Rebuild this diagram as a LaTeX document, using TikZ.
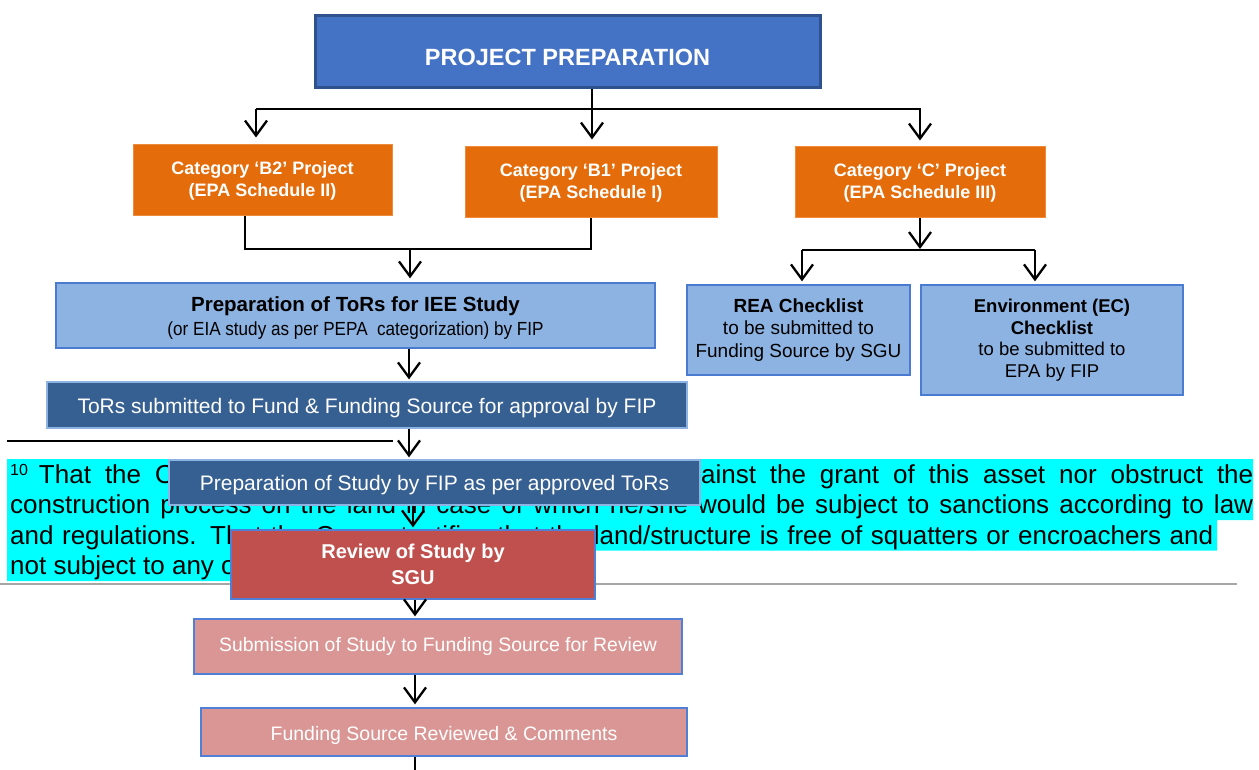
\documentclass[tikz,border=0pt]{standalone}
\usepackage{graphicx}
\usepackage{fontspec}
\setmainfont{Liberation Sans}
\usetikzlibrary{arrows.meta}

\definecolor{prepblue}{HTML}{4472C4}
\definecolor{prepedge}{HTML}{2F528F}
\definecolor{catorange}{HTML}{E46C0A}
\definecolor{catedge}{HTML}{F08A3C}
\definecolor{lightblue}{HTML}{8DB3E2}
\definecolor{lightedge}{HTML}{4A7BD0}
\definecolor{steelblue}{HTML}{376092}
\definecolor{steeledge}{HTML}{8DB3E2}
\definecolor{reviewred}{HTML}{C0504D}
\definecolor{pinkbox}{HTML}{D99694}
\definecolor{pinkedge}{HTML}{4F7FD6}
\definecolor{hilite}{HTML}{00FFFF}
\definecolor{rulegray}{HTML}{A6A6A6}

% lower a line of text inside its box without changing the box size
\newcommand{\lowerby}[2]{\raisebox{-#1}[\height][\depth]{#2}}

\tikzset{
  conn/.style={draw=black, line width=2.3pt},
  arr/.style={conn, -{Straight Barb[length=15pt,width=22pt]}, shorten >=4pt},
  box/.style={rectangle, align=center, inner sep=0pt},
  topbox/.style={box, fill=prepblue, draw=prepedge, line width=3pt, text=white},
  catbox/.style={box, fill=catorange, draw=catedge, line width=1pt, text=white,
    font=\bfseries\fontsize{18}{22}\selectfont},
  lbbox/.style={box, fill=lightblue, draw=lightedge, line width=1.3pt, text=black},
  sbbox/.style={box, fill=steelblue, draw=steeledge, line width=1.3pt, text=white},
  redbox/.style={box, fill=reviewred, draw=pinkedge, line width=1.3pt, text=white,
    font=\bfseries\fontsize{20}{26}\selectfont},
  pkbox/.style={box, fill=pinkbox, draw=pinkedge, line width=1.3pt, text=white},
  fntext/.style={anchor=base west, inner sep=0pt, font=\fontsize{26}{30}\selectfont}
}

\begin{document}
\begin{tikzpicture}[x=1pt, y=-1pt]
\useasboundingbox (0,0) rectangle (1259,770);
\clip (0,0) rectangle (1259,770);
\fill[white] (0,0) rectangle (1259,770);

% ---- footnote text layer (lies beneath the flow chart) ----
\draw[black, line width=1.4pt] (7,441) -- (393,441);
\fill[hilite] (7,459) -- (1253,459) -- (1253,520) -- (1217,520) -- (1217,550.5)
  -- (420,550.5) -- (420,581) -- (7,581) -- cycle;
\node[fntext] (fn1a) at (10,483)
  {\raisebox{8pt}{\fontsize{16}{16}\selectfont 10}\hspace{11pt}That\hspace{14pt}the\hspace{14pt}Owner};
\node[fntext] (fn1b) at (672,483)
  {\makebox[581pt][s]{against the grant of this asset nor obstruct the}};
\node[fntext] (fn2) at (10,513.5)
  {\makebox[1243pt][s]{construction process on the land in case of which he/she would be subject to sanctions according to law}};
\node[fntext] (fn3) at (10,544)
  {\makebox[1203pt][s]{and regulations. That the Owner testifies that the land/structure is free of squatters or encroachers and}};
\node[fntext] (fn4) at (10,574.5) {not subject to any other claim.};
\draw[rulegray, line width=2.5pt] (0,584) -- (1237,584);

% ---- boxes ----
\node[topbox, minimum width=505pt, minimum height=72pt,
  font=\bfseries\fontsize{23.5}{28}\selectfont] (top) at (567.5,52) {\lowerby{5pt}{PROJECT PREPARATION}};

\node[catbox, minimum width=259pt, minimum height=71pt] (b2) at (262.5,180.5)
  {Category ‘B2’ Project\\(EPA Schedule II)};
\node[catbox, minimum width=252pt, minimum height=71pt] (b1) at (591,182.5)
  {Category ‘B1’ Project\\(EPA Schedule I)};
\node[catbox, minimum width=250pt, minimum height=71pt] (cc) at (920,182.5)
  {Category ‘C’ Project\\(EPA Schedule III)};

\node[lbbox, minimum width=599pt, minimum height=65pt, font=\fontsize{19}{24}\selectfont] (tors) at (355.5,315.5)
  {\lowerby{3pt}{\bfseries\fontsize{20.5}{24}\selectfont Preparation of ToRs for IEE Study}\\
   \lowerby{3pt}{\scalebox{0.9}[1]{(or EIA study as per PEPA~ categorization) by FIP}}};

\node[lbbox, minimum width=223pt, minimum height=90pt, font=\fontsize{19}{22.5}\selectfont] (rea) at (798.5,330)
  {\textbf{REA Checklist}\\to be submitted to\\Funding Source by SGU};
\node[lbbox, minimum width=262pt, minimum height=110pt, font=\fontsize{18.5}{21.5}\selectfont] (ec) at (1052,340)
  {\textbf{Environment (EC)}\\\textbf{Checklist}\\to be submitted to\\EPA by FIP};

\node[sbbox, minimum width=640pt, minimum height=46pt, font=\fontsize{21}{24}\selectfont] (sub) at (367,405)
  {\lowerby{3pt}{ToRs submitted to Fund \& Funding Source for approval by FIP}};
\node[sbbox, minimum width=531pt, minimum height=45pt, font=\fontsize{21}{24}\selectfont] (study) at (434.5,482.5)
  {\lowerby{3pt}{Preparation of Study by FIP as per approved ToRs}};
\node[redbox, minimum width=364pt, minimum height=69pt] (review) at (413,564.5)
  {Review of Study by\\SGU};
\node[pkbox, minimum width=488pt, minimum height=55pt, font=\fontsize{19.4}{23}\selectfont] (submis) at (438,646.5)
  {Submission of Study to Funding Source for Review};
\node[pkbox, minimum width=486pt, minimum height=48pt, font=\fontsize{19.5}{23}\selectfont] (funded) at (444,732)
  {\lowerby{3pt}{Funding Source Reviewed \& Comments}};

% ---- connectors ----
\coordinate (jl) at (256,109);
\coordinate (jm) at (592,109);
\coordinate (jr) at (921,109);
\draw[conn] (top.south -| jm) -- (jm);
\draw[conn] (jl) -- (jr);
\draw[arr, shorten >=7pt] (jl) -- (jl |- b2.north);
\draw[arr, shorten >=7pt] (jm) -- (jm |- b1.north);
\draw[arr, shorten >=6pt] (920,109) -- (cc.north);

\coordinate (ml) at (245,249);
\coordinate (mr) at (591,249);
\coordinate (mm) at (410,249);
\draw[conn] (ml |- b2.south) -- (ml) -- (mr) -- (mr |- b1.south);
\draw[arr] (mm) -- (mm |- tors.north);

\coordinate (cl) at (802,250);
\coordinate (cr) at (1035,250);
\coordinate (cm) at (920,250);
\draw[arr, shorten >=1pt] (cc.south) -- (cm);
\draw[conn] (cl) -- (cr);
\draw[arr, shorten >=3pt] (cl) -- (cl |- rea.north);
\draw[arr, shorten >=3pt] (cr) -- (cr |- ec.north);

\coordinate (ax) at (409,0);
\coordinate (bx) at (415,0);
\coordinate (next) at (415,800);
\draw[arr, shorten >=2pt] (tors.south -| ax) -- (sub.north -| ax);
\draw[arr, shorten >=2pt] (sub.south -| ax) -- (study.north -| ax);
\draw[arr, shorten >=2pt] (study.south -| 413,0) -- (review.north -| 413,0);
\draw[arr, shorten >=2pt] (review.south -| bx) -- (submis.north -| bx);
\draw[arr, shorten >=3pt] (submis.south -| bx) -- (funded.north -| bx);
\draw[arr] (funded.south -| bx) -- (next);
\end{tikzpicture}
\end{document}
